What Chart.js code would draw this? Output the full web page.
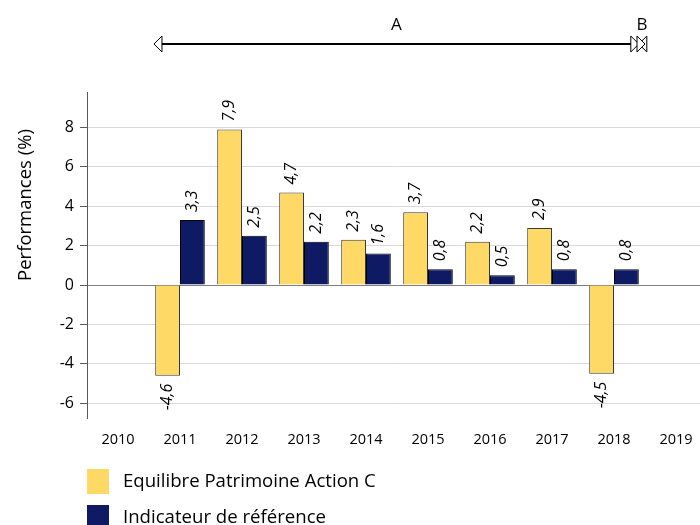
<!DOCTYPE html>
<html><head><meta charset="utf-8">
<script src="https://cdn.jsdelivr.net/npm/chart.js@4"></script>
<style>html,body{margin:0;padding:0;overflow:hidden;background:#fff;width:700px;height:525px}
#wrap{position:relative;width:712px;height:525px}</style></head>
<body><div id="wrap"><canvas id="c" width="712" height="525"></canvas></div>
<script>
const years = ['2010','2011','2012','2013','2014','2015','2016','2017','2018','2019'];
const fundValues = [null,-4.6,7.9,4.7,2.3,3.7,2.2,2.9,-4.5,null];
const benchValues = [null,3.3,2.5,2.2,1.6,0.8,0.5,0.8,0.8,null];
const seriesNames = ['Equilibre Patrimoine Action C','Indicateur de référence'];
const seriesColors = ['#FFD966','#0F1A64'];
const yTicks = [-6,-4,-2,0,2,4,6,8];
const yAxisTitle = 'Performances (%)';
// periods shown above the chart, in category-index units
const periodLabels = ['A','B'];
const periodStart = [0.58, 8.40];
const periodEnd = [8.40, 8.50];

const FONT = '"Open Sans", sans-serif';

const valueLabels = {
  id:'valueLabels',
  afterDatasetsDraw(chart){
    const ctx = chart.ctx;
    chart.data.datasets.forEach((ds,di)=>{
      const meta = chart.getDatasetMeta(di);
      meta.data.forEach((el,i)=>{
        const v = ds.data[i];
        if(v===null||v===undefined) return;
        ctx.save();
        ctx.font = 'italic 16px '+FONT;
        ctx.fillStyle = '#000';
        ctx.textBaseline = 'middle';
        const pos = v>=0;
        ctx.translate(el.x, pos ? el.y-8 : el.y+8);
        ctx.rotate(-Math.PI/2);
        ctx.textAlign = pos ? 'left' : 'right';
        ctx.fillText(v.toFixed(1).replace('.',','),0,0);
        ctx.restore();
      });
    });
  }
};

const extras = {
  id:'extras',
  afterDraw(chart){
    const ctx = chart.ctx;
    // y axis title
    ctx.save();
    ctx.font = '18.5px '+FONT;
    ctx.fillStyle = '#000';
    ctx.textAlign='center'; ctx.textBaseline='middle';
    ctx.translate(26,205); ctx.rotate(-Math.PI/2);
    ctx.fillText(yAxisTitle,0,0);
    ctx.restore();
    // legend
    ctx.save();
    chart.data.datasets.forEach((ds,i)=>{
      const y = 469 + i*36;
      ctx.fillStyle = ds.backgroundColor;
      ctx.fillRect(87,y,22,25);
      ctx.fillStyle='#000';
      ctx.font='18.6px '+FONT;
      ctx.textAlign='left'; ctx.textBaseline='middle';
      ctx.fillText(ds.label,123,y+13);
    });
    ctx.restore();
    // periods
    const xs = chart.scales.x;
    const p0 = xs.getPixelForValue(0), step = xs.getPixelForValue(1)-p0;
    const ly = 44;
    ctx.save();
    ctx.strokeStyle='#000';
    periodLabels.forEach((lab,i)=>{
      const a = p0+periodStart[i]*step, b = p0+periodEnd[i]*step;
      ctx.lineWidth=2;
      ctx.beginPath(); ctx.moveTo(a+7,ly); ctx.lineTo(b-7,ly); ctx.stroke();
      ctx.lineWidth=1;
      ctx.fillStyle='#fff';
      ctx.beginPath(); ctx.moveTo(a,ly); ctx.lineTo(a+8,ly-8); ctx.lineTo(a+8,ly+8); ctx.closePath(); ctx.fill(); ctx.stroke();
      ctx.beginPath(); ctx.moveTo(b,ly); ctx.lineTo(b-8,ly-8); ctx.lineTo(b-8,ly+8); ctx.closePath(); ctx.fill(); ctx.stroke();
      ctx.fillStyle='#000';
      ctx.font='17px '+FONT;
      ctx.textAlign='center'; ctx.textBaseline='middle';
      ctx.fillText(lab,(a+b)/2,25);
    });
    ctx.restore();
  }
};

new Chart(document.getElementById('c'),{
  type:'bar',
  data:{
    labels: years,
    datasets:[
      {label:seriesNames[0],data:fundValues,backgroundColor:seriesColors[0],borderColor:'#3a3a3a',borderWidth:1,barPercentage:1,categoryPercentage:0.8},
      {label:seriesNames[1],data:benchValues,backgroundColor:seriesColors[1],borderColor:'#000',borderWidth:1,barPercentage:1,categoryPercentage:0.8}
    ]
  },
  options:{
    responsive:false,
    animation:false,
    layout:{padding:{left:0,top:92,right:5,bottom:0}},
    plugins:{legend:{display:false},tooltip:{enabled:false}},
    scales:{
      x:{
        grid:{display:false,drawTicks:false},
        border:{display:false},
        ticks:{font:{family:FONT,size:14.5},color:'#000',padding:13,maxRotation:0},
        afterFit(s){s.height=107;}
      },
      y:{
        min:-6.75,max:9.8,
        afterBuildTicks(ax){ax.ticks=yTicks.map(v=>({value:v}));},
        grid:{color:c=>c.tick&&c.tick.value===0?'#7f7f7f':'#d9d9d9',tickColor:'#595959',tickLength:7,lineWidth:1},
        border:{color:'#595959',width:1},
        ticks:{font:{family:FONT,size:16},color:'#000',padding:6,callback:v=>String(v)},
        afterFit(s){s.width=87;}
      }
    }
  },
  plugins:[valueLabels,extras]
});
</script></body></html>
